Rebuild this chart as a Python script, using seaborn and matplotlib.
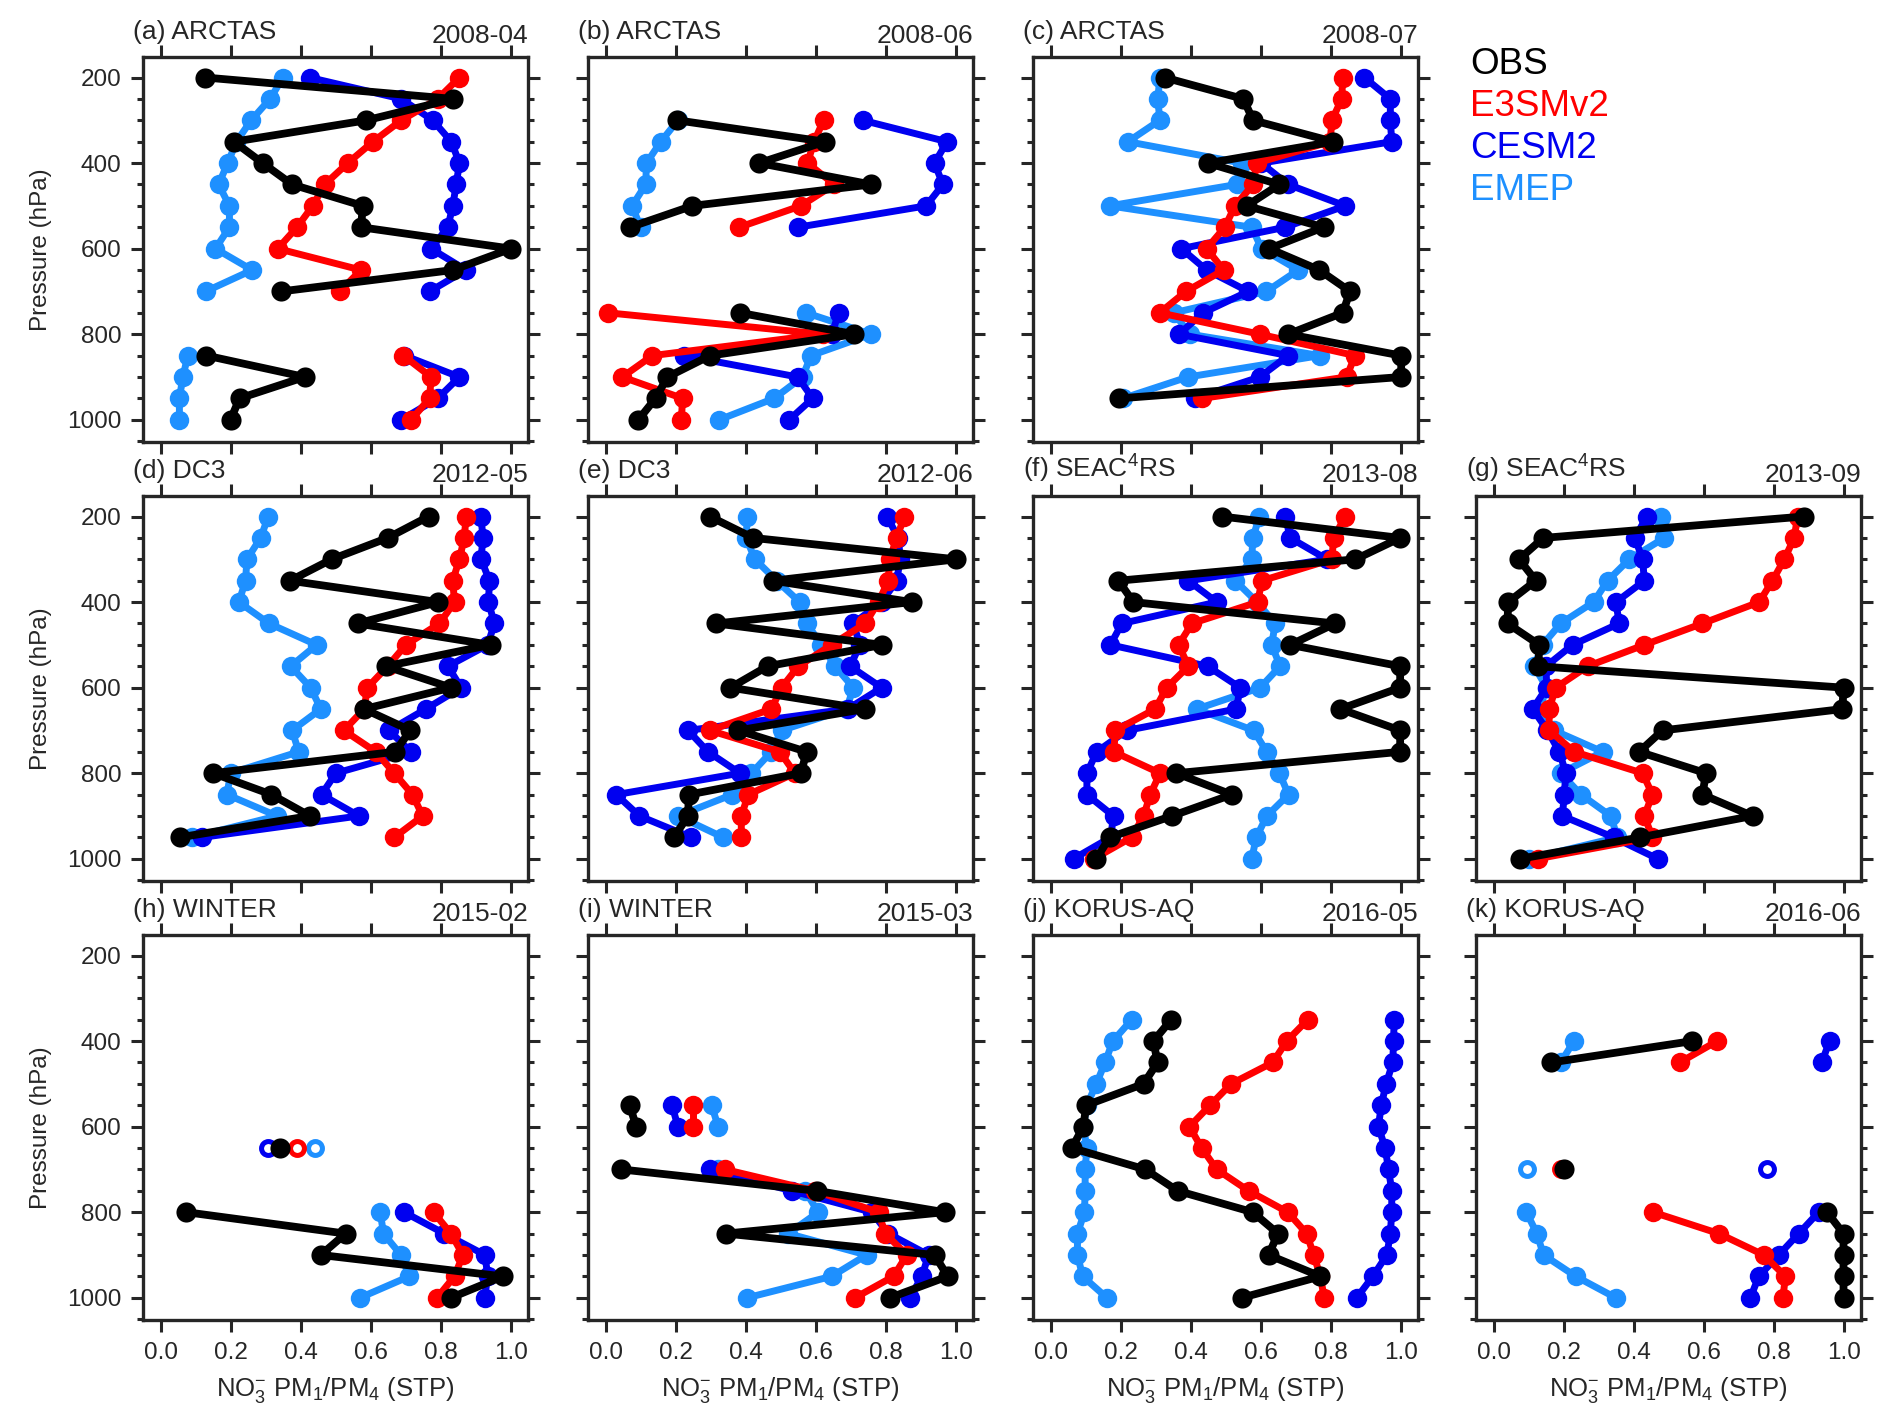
import numpy as np
import pandas as pd
import seaborn as sns
import matplotlib.pyplot as plt
from matplotlib.ticker import MultipleLocator, FormatStrFormatter

nan = np.nan

# pressure levels (hPa), 200 .. 1000 every 50
levels = [200, 250, 300, 350, 400, 450, 500, 550, 600,
          650, 700, 750, 800, 850, 900, 950, 1000]

# (a) ARCTAS 2008-04
a_obs  = [0.126, 0.835, 0.586, 0.208, 0.290, 0.374, 0.576, 0.571, 1.000, 0.833, 0.343, nan, nan, 0.129, 0.410, 0.224, 0.198]
a_e3sm = [0.852, 0.790, 0.686, 0.605, 0.533, 0.467, 0.433, 0.388, 0.333, 0.571, 0.510, nan, nan, 0.692, 0.771, 0.767, 0.714]
a_cesm = [0.424, 0.686, 0.776, 0.829, 0.852, 0.843, 0.833, 0.819, 0.771, 0.871, 0.767, nan, nan, 0.695, 0.852, 0.790, 0.686]
a_emep = [0.348, 0.311, 0.257, 0.215, 0.190, 0.164, 0.195, 0.195, 0.155, 0.260, 0.127, nan, nan, 0.076, 0.062, 0.052, 0.052]

# (b) ARCTAS 2008-06
b_obs  = [nan, nan, 0.203, 0.625, 0.437, 0.757, 0.246, 0.068, nan, nan, nan, 0.382, 0.709, 0.297, 0.175, 0.141, 0.092]
b_e3sm = [nan, nan, 0.621, 0.594, 0.575, 0.652, 0.556, 0.380, nan, nan, nan, 0.005, 0.620, 0.132, 0.046, 0.218, 0.215]
b_cesm = [nan, nan, 0.733, 0.974, 0.938, 0.962, 0.914, 0.547, nan, nan, nan, 0.664, 0.645, 0.222, 0.547, 0.590, 0.523]
b_emep = [nan, nan, 0.205, 0.156, 0.115, 0.113, 0.074, 0.098, nan, nan, nan, 0.571, 0.757, 0.585, 0.561, 0.480, 0.323]

# (c) ARCTAS 2008-07
c_obs  = [0.324, 0.549, 0.577, 0.806, 0.448, 0.652, 0.558, 0.778, 0.623, 0.766, 0.854, 0.833, 0.677, 1.000, 1.000, 0.194, nan]
c_e3sm = [0.833, 0.830, 0.802, 0.797, 0.587, 0.577, 0.525, 0.496, 0.444, 0.493, 0.385, 0.310, 0.596, 0.868, 0.844, 0.432, nan]
c_cesm = [0.895, 0.969, 0.969, 0.973, 0.600, 0.677, 0.840, 0.668, 0.372, 0.444, 0.563, 0.434, 0.365, 0.677, 0.596, 0.410, nan]
c_emep = [0.310, 0.305, 0.310, 0.219, 0.545, 0.530, 0.167, 0.573, 0.601, 0.706, 0.615, 0.350, 0.396, 0.768, 0.391, 0.205, nan]

# (d) DC3 2012-05
d_obs  = [0.764, 0.647, 0.487, 0.368, 0.792, 0.561, 0.941, 0.642, 0.828, 0.580, 0.712, 0.668, 0.148, 0.315, 0.425, 0.053, nan]
d_e3sm = [0.871, 0.866, 0.852, 0.833, 0.838, 0.795, 0.699, 0.647, 0.589, 0.580, 0.522, 0.613, 0.666, 0.718, 0.747, 0.666, nan]
d_cesm = [0.914, 0.919, 0.914, 0.938, 0.935, 0.952, 0.933, 0.819, 0.857, 0.756, 0.651, 0.713, 0.499, 0.458, 0.565, 0.117, nan]
d_emep = [0.306, 0.284, 0.245, 0.241, 0.222, 0.308, 0.444, 0.370, 0.427, 0.456, 0.374, 0.393, 0.198, 0.188, 0.331, 0.088, nan]

# (e) DC3 2012-06
e_obs  = [0.296, 0.420, 1.000, 0.477, 0.873, 0.315, 0.789, 0.461, 0.355, 0.738, 0.377, 0.573, 0.556, 0.236, 0.234, 0.193, nan]
e_e3sm = [0.852, 0.830, 0.810, 0.806, 0.778, 0.740, 0.644, 0.549, 0.501, 0.472, 0.296, 0.496, 0.539, 0.406, 0.386, 0.386, nan]
e_cesm = [0.802, 0.835, 0.840, 0.830, 0.787, 0.706, 0.725, 0.697, 0.787, 0.690, 0.234, 0.291, 0.382, 0.029, 0.095, 0.243, nan]
e_emep = [0.403, 0.400, 0.425, 0.487, 0.553, 0.573, 0.615, 0.654, 0.706, 0.687, 0.501, 0.472, 0.415, 0.360, 0.205, 0.334, nan]

# (f) SEAC4RS 2013-08
f_obs  = [0.488, 0.997, 0.869, 0.192, 0.235, 0.811, 0.683, 0.997, 0.997, 0.826, 0.997, 0.997, 0.357, 0.516, 0.345, 0.167, 0.129]
f_e3sm = [0.840, 0.807, 0.802, 0.602, 0.590, 0.402, 0.364, 0.392, 0.330, 0.297, 0.183, 0.179, 0.311, 0.283, 0.264, 0.230, 0.122]
f_cesm = [0.669, 0.683, 0.788, 0.392, 0.473, 0.202, 0.169, 0.447, 0.540, 0.529, 0.216, 0.130, 0.102, 0.102, 0.178, 0.170, 0.064]
f_emep = [0.595, 0.576, 0.573, 0.526, 0.588, 0.640, 0.630, 0.654, 0.597, 0.416, 0.578, 0.616, 0.652, 0.678, 0.616, 0.586, 0.573]

# (g) SEAC4RS 2013-09
g_obs  = [0.884, 0.140, 0.071, 0.119, 0.040, 0.038, 0.129, 0.126, 0.998, 0.995, 0.481, 0.414, 0.605, 0.595, 0.738, 0.417, 0.074]
g_e3sm = [0.867, 0.857, 0.829, 0.795, 0.757, 0.595, 0.429, 0.267, 0.176, 0.157, 0.157, 0.229, 0.424, 0.452, 0.429, 0.452, 0.124]
g_cesm = [0.436, 0.402, 0.424, 0.429, 0.348, 0.357, 0.224, 0.148, 0.150, 0.110, 0.152, 0.186, 0.205, 0.200, 0.195, 0.341, 0.467]
g_emep = [0.476, 0.486, 0.386, 0.324, 0.284, 0.190, 0.138, 0.114, 0.150, 0.130, 0.171, 0.310, 0.190, 0.248, 0.333, 0.352, 0.100]

# (h) WINTER 2015-02
h_obs  = [nan, nan, nan, nan, nan, nan, nan, nan, nan, 0.338, nan, nan, 0.072, 0.527, 0.456, 0.976, 0.828]
h_e3sm = [nan, nan, nan, nan, nan, nan, nan, nan, nan, 0.389, nan, nan, 0.778, 0.828, 0.862, 0.838, 0.788]
h_cesm = [nan, nan, nan, nan, nan, nan, nan, nan, nan, 0.306, nan, nan, 0.694, 0.809, 0.925, 0.933, 0.924]
h_emep = [nan, nan, nan, nan, nan, nan, nan, nan, nan, 0.439, nan, nan, 0.626, 0.635, 0.685, 0.709, 0.568]

# (i) WINTER 2015-03
i_obs  = [nan, nan, nan, nan, nan, nan, nan, 0.067, 0.086, nan, 0.043, 0.601, 0.967, 0.342, 0.938, 0.976, 0.811]
i_e3sm = [nan, nan, nan, nan, nan, nan, nan, 0.248, 0.248, nan, 0.339, 0.596, 0.778, 0.797, 0.859, 0.821, 0.711]
i_cesm = [nan, nan, nan, nan, nan, nan, nan, 0.188, 0.205, nan, 0.296, 0.530, 0.759, 0.806, 0.921, 0.902, 0.868]
i_emep = [nan, nan, nan, nan, nan, nan, nan, 0.301, 0.320, nan, 0.320, 0.568, 0.606, 0.520, 0.744, 0.644, 0.403]

# (j) KORUS-AQ 2016-05
j_obs  = [nan, nan, nan, 0.343, 0.292, 0.304, 0.264, 0.100, 0.092, 0.059, 0.269, 0.361, 0.576, 0.648, 0.621, 0.769, 0.545]
j_e3sm = [nan, nan, nan, 0.733, 0.673, 0.633, 0.514, 0.454, 0.395, 0.430, 0.473, 0.564, 0.676, 0.730, 0.750, 0.769, 0.780]
j_cesm = [nan, nan, nan, 0.980, 0.978, 0.976, 0.957, 0.943, 0.935, 0.954, 0.964, 0.973, 0.973, 0.969, 0.959, 0.919, 0.873]
j_emep = [nan, nan, nan, 0.230, 0.176, 0.154, 0.129, 0.102, 0.092, 0.102, 0.097, 0.097, 0.095, 0.075, 0.075, 0.090, 0.159]

# (k) KORUS-AQ 2016-06
k_obs  = [nan, nan, nan, nan, 0.566, 0.163, nan, nan, nan, nan, 0.200, nan, 0.951, 0.998, 0.998, 0.998, 0.998]
k_e3sm = [nan, nan, nan, nan, 0.637, 0.530, nan, nan, nan, nan, 0.190, nan, 0.454, 0.642, 0.770, 0.832, 0.825]
k_cesm = [nan, nan, nan, nan, 0.958, 0.936, nan, nan, nan, nan, 0.779, nan, 0.927, 0.870, 0.813, 0.756, 0.732]
k_emep = [nan, nan, nan, nan, 0.228, 0.190, nan, nan, nan, nan, 0.095, nan, 0.092, 0.122, 0.141, 0.233, 0.347]

titles = ['(a) ARCTAS', '(b) ARCTAS', '(c) ARCTAS', '(d) DC3', '(e) DC3',
          '(f) SEAC$^4$RS', '(g) SEAC$^4$RS', '(h) WINTER', '(i) WINTER',
          '(j) KORUS-AQ', '(k) KORUS-AQ']
dates = ['2008-04', '2008-06', '2008-07', '2012-05', '2012-06', '2013-08',
         '2013-09', '2015-02', '2015-03', '2016-05', '2016-06']
grid_pos = [(0, 0), (0, 1), (0, 2), (1, 0), (1, 1), (1, 2), (1, 3),
            (2, 0), (2, 1), (2, 2), (2, 3)]
panel_data = [
    (a_obs, a_e3sm, a_cesm, a_emep), (b_obs, b_e3sm, b_cesm, b_emep),
    (c_obs, c_e3sm, c_cesm, c_emep), (d_obs, d_e3sm, d_cesm, d_emep),
    (e_obs, e_e3sm, e_cesm, e_emep), (f_obs, f_e3sm, f_cesm, f_emep),
    (g_obs, g_e3sm, g_cesm, g_emep), (h_obs, h_e3sm, h_cesm, h_emep),
    (i_obs, i_e3sm, i_cesm, i_emep), (j_obs, j_e3sm, j_cesm, j_emep),
    (k_obs, k_e3sm, k_cesm, k_emep),
]

names = ['OBS', 'E3SMv2', 'CESM2', 'EMEP']
colors = {'OBS': 'black', 'E3SMv2': '#FF0000', 'CESM2': '#0000F0', 'EMEP': '#1E90FF'}
draw_order = ['EMEP', 'CESM2', 'E3SMv2', 'OBS']

sns.set_style('ticks')
plt.rcParams['font.family'] = ['Liberation Sans', 'DejaVu Sans']
plt.rcParams['mathtext.fontset'] = 'custom'
plt.rcParams['mathtext.rm'] = 'Liberation Sans'
plt.rcParams['mathtext.it'] = 'Liberation Sans:italic'
plt.rcParams['mathtext.bf'] = 'Liberation Sans:bold'

W, H = 1892, 1428
fig = plt.figure(figsize=(W / 100, H / 100), dpi=100)
col_left = [143, 588, 1033, 1476]
row_top = [57, 496, 935]
box = 385


def to_long(values):
    df = pd.DataFrame({'pressure': levels, 'value': values})
    gap = df['value'].isna()
    df['seg'] = gap.cumsum()
    df = df[~gap].copy()
    df['n'] = df['seg'].map(df.groupby('seg').size())
    return df


for k in range(len(titles)):
    r, c = grid_pos[k]
    ax = fig.add_axes([col_left[c] / W, 1 - (row_top[r] + box) / H, box / W, box / H])
    series = dict(zip(names, panel_data[k]))
    for z, name in enumerate(draw_order):
        df = to_long(series[name])
        col = colors[name]
        joined = df[df['n'] > 1]
        single = df[df['n'] == 1]
        if len(joined):
            sns.lineplot(data=joined, x='value', y='pressure', units='seg',
                         estimator=None, sort=False, orient='y', color=col,
                         lw=5.6 if name == 'OBS' else 5.0, marker='o',
                         markersize=14.5 if name == 'OBS' else 14,
                         mec=col, mew=0, ax=ax, legend=False, zorder=3 + z)
        if len(single):
            if name == 'OBS':
                sns.scatterplot(data=single, x='value', y='pressure', color=col,
                                s=210, linewidth=0, ax=ax, legend=False,
                                zorder=3 + z)
            else:
                sns.scatterplot(data=single, x='value', y='pressure', color=col,
                                facecolor='white', edgecolor=col, s=100,
                                linewidth=3.6, ax=ax, legend=False, zorder=3 + z)

    ax.set_xlim(-0.052, 1.048)
    ax.set_ylim(1052, 152)
    ax.set_xticks([0.0, 0.2, 0.4, 0.6, 0.8, 1.0])
    ax.xaxis.set_major_formatter(FormatStrFormatter('%.1f'))
    ax.set_yticks([200, 400, 600, 800, 1000])
    ax.yaxis.set_minor_locator(MultipleLocator(50))
    ax.tick_params(which='both', direction='out', top=True, right=True,
                   width=2.2, labelsize=17.5, pad=7,
                   labelleft=(c == 0), labelbottom=(r == 2))
    ax.tick_params(which='major', length=8.5)
    ax.tick_params(which='minor', length=4.5)
    for sp in ax.spines.values():
        sp.set_linewidth(2.4)
    ax.set_xlabel(r'NO$_3^{-}$ PM$_1$/PM$_4$ (STP)' if r == 2 else '',
                  fontsize=18.5, labelpad=8)
    ax.set_ylabel('Pressure (hPa)' if c == 0 else '', fontsize=17.5, labelpad=11)
    ax.text(-0.026, 1.047, titles[k], transform=ax.transAxes, fontsize=19,
            ha='left', va='baseline')
    ax.text(1.0, 1.036, dates[k], transform=ax.transAxes, fontsize=19,
            ha='right', va='baseline')

# legend as coloured words in the empty top-right slot
leg_y = [64, 106, 149, 191]
for name, y in zip(names, leg_y):
    fig.text(1470 / W, 1 - y / H, name, color=colors[name], fontsize=26.5,
             ha='left', va='center')

fig.savefig('out.png', dpi=100)
